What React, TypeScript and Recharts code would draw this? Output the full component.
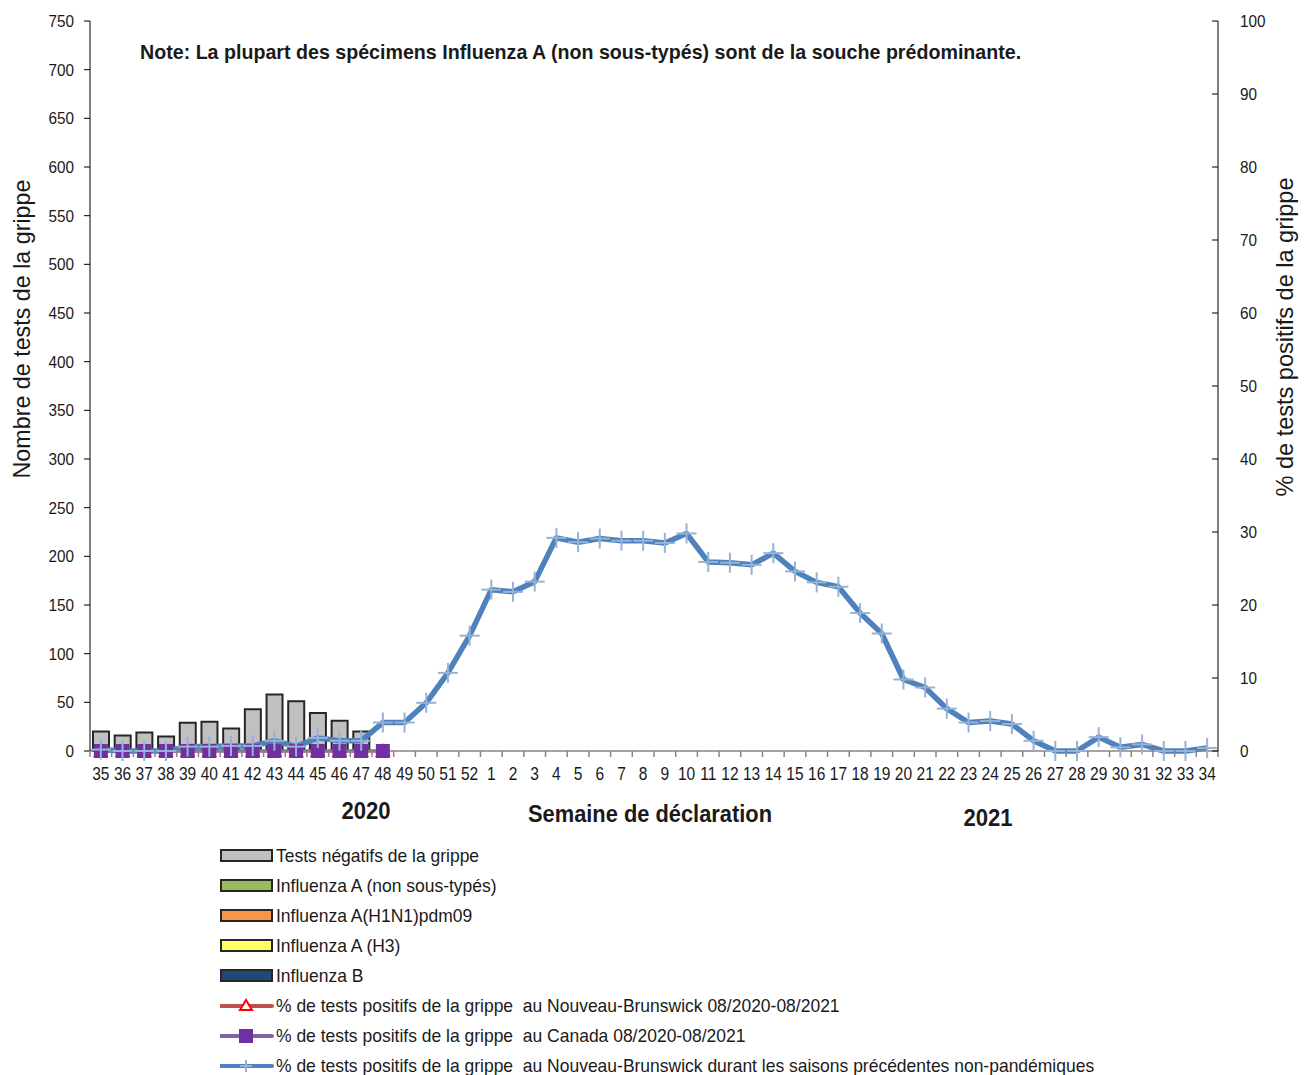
import React from "react";
import {
  ComposedChart,
  Bar,
  Line,
  XAxis,
  YAxis,
} from "recharts";

const weeks = [
  "35", "36", "37", "38", "39", "40", "41", "42", "43", "44", "45", "46", "47", "48", "49", "50", "51", "52",
  "1", "2", "3", "4", "5", "6", "7", "8", "9", "10", "11", "12", "13", "14", "15", "16", "17",
  "18", "19", "20", "21", "22", "23", "24", "25", "26", "27", "28", "29", "30", "31", "32", "33", "34",
];

// Tests négatifs (axe gauche)
const negativeTests = [20, 16, 19, 15, 29, 30, 23, 43, 58, 51, 39, 31, 20, 0];
const fluANonSubtyped = [0, 0, 0, 0, 0, 0, 0, 0, 0, 0, 0, 0, 0, 0];
const fluAH1N1 = [0, 0, 0, 0, 0, 0, 0, 0, 0, 0, 0, 0, 0, 0];
const fluAH3 = [0, 0, 0, 0, 0, 0, 0, 0, 0, 0, 0, 0, 0, 0];
const fluB = [0, 0, 0, 0, 0, 0, 0, 0, 0, 0, 0, 0, 0, 0];

// % positifs (axe droit)
const pctNB = [0, 0, 0, 0, 0, 0, 0, 0, 0, 0, 0, 0, 0, 0];
const pctCanada = [0, 0, 0, 0, 0, 0, 0, 0, 0, 0, 0, 0, 0, 0];
const pctPrevSeasons = [
  0.2, 0, 0, 0, 0.6, 0.6, 0.7, 0.7, 1.4, 0.6, 1.8, 1.4, 1.4, 3.9, 3.9, 6.6, 10.7, 15.8,
  22.1, 21.8, 23.2, 29.2, 28.6, 29.1, 28.8, 28.8, 28.5, 29.8, 25.9, 25.8, 25.5, 27.1, 24.6, 23.1, 22.5,
  18.9, 16.1, 9.8, 8.7, 5.8, 3.9, 4.1, 3.7, 1.4, 0, 0, 1.9, 0.5, 0.9, 0, 0, 0.4,
];

const leftTicks = [0, 50, 100, 150, 200, 250, 300, 350, 400, 450, 500, 550, 600, 650, 700, 750];
const rightTicks = [0, 10, 20, 30, 40, 50, 60, 70, 80, 90, 100];

const data = weeks.map((w, i) => ({
  week: w,
  neg: negativeTests[i] ?? null,
  aNon: fluANonSubtyped[i] ?? null,
  h1n1: fluAH1N1[i] ?? null,
  h3: fluAH3[i] ?? null,
  b: fluB[i] ?? null,
  nb: pctNB[i] ?? null,
  ca: pctCanada[i] ?? null,
  prev: pctPrevSeasons[i],
}));

const FONT = "'Liberation Sans', Arial, sans-serif";
const BAND = 1128 / 52;

const PlusDot = (props: any) => {
  const { cx, cy } = props;
  if (cx == null || cy == null) return null;
  return (
    <g>
      <line x1={cx - 10} x2={cx + 10} y1={cy} y2={cy} stroke="#95B3D7" strokeWidth={2} />
      <line x1={cx} x2={cx} y1={cy - 10} y2={cy + 10} stroke="#95B3D7" strokeWidth={2} />
    </g>
  );
};

const SquareDot = (props: any) => {
  const { cx, cy } = props;
  if (cx == null || cy == null) return null;
  return <rect x={cx - 7} y={cy - 7} width={14} height={14} fill="#7030A0" />;
};

const TriangleDot = (props: any) => {
  const { cx, cy } = props;
  if (cx == null || cy == null) return null;
  return (
    <polygon
      points={`${cx},${cy - 6} ${cx + 6},${cy + 5} ${cx - 6},${cy + 5}`}
      fill="#fff"
      stroke="#FF0000"
      strokeWidth={2}
    />
  );
};

const WeekTick = (props: any) => {
  const { x, y, payload, index } = props;
  const left = x - BAND / 2;
  return (
    <g>
      <line x1={left} x2={left} y1={y} y2={y + 6} stroke="#868686" strokeWidth={1.5} />
      {index === weeks.length - 1 && (
        <line x1={x + BAND / 2} x2={x + BAND / 2} y1={y} y2={y + 6} stroke="#868686" strokeWidth={1.5} />
      )}
      <text
        transform={`translate(${x},${y + 29}) scale(0.84,1)`}
        textAnchor="middle"
        fontSize={18.5}
        fontFamily={FONT}
        fill="#1a1a1a"
      >
        {payload.value}
      </text>
    </g>
  );
};

const LeftTick = (props: any) => {
  const { x, y, payload } = props;
  return (
    <text
      transform={`translate(${x},${y + 6}) scale(0.9,1)`}
      textAnchor="end"
      fontSize={17}
      fontFamily={FONT}
      fill="#1a1a1a"
    >
      {payload.value}
    </text>
  );
};

const RightTick = (props: any) => {
  const { x, y, payload } = props;
  const axisX = x - 22;
  return (
    <g>
      <line x1={axisX - 6} x2={axisX} y1={y} y2={y} stroke="#000" strokeWidth={1} />
      <text
        transform={`translate(${x},${y + 6}) scale(0.9,1)`}
        textAnchor="start"
        fontSize={17}
        fontFamily={FONT}
        fill="#1a1a1a"
      >
        {payload.value}
      </text>
    </g>
  );
};

const legendBoxes = [
  { label: "Tests négatifs de la grippe", color: "#C0C0C0" },
  { label: "Influenza A (non sous-typés)", color: "#9BBB59" },
  { label: "Influenza A(H1N1)pdm09", color: "#F79646" },
  { label: "Influenza A (H3)", color: "#FFFF66" },
  { label: "Influenza B", color: "#1F497D" },
];

const legendLines = [
  { label: "% de tests positifs de la grippe  au Nouveau-Brunswick 08/2020-08/2021", color: "#C0504D", marker: "tri" },
  { label: "% de tests positifs de la grippe  au Canada 08/2020-08/2021", color: "#8064A2", marker: "sq" },
  { label: "% de tests positifs de la grippe  au Nouveau-Brunswick durant les saisons précédentes non-pandémiques", color: "#4F81BD", marker: "plus" },
];

function LegendMarker({ marker }: { marker: string }) {
  if (marker === "tri")
    return <polygon points="26,2 32,12 20,12" fill="#fff" stroke="#FF0000" strokeWidth={2} />;
  if (marker === "sq") return <rect x={19} y={1} width={14} height={14} fill="#7030A0" />;
  return (
    <g>
      <line x1={20} x2={32} y1={8} y2={8} stroke="#95B3D7" strokeWidth={2} />
      <line x1={26} x2={26} y1={2} y2={14} stroke="#95B3D7" strokeWidth={2} />
    </g>
  );
}

const legendText: React.CSSProperties = {
  display: "inline-block",
  fontSize: 19,
  whiteSpace: "pre",
  transform: "scaleX(0.92)",
  transformOrigin: "left center",
};

export default function App() {
  return (
    <div style={{ position: "relative", width: 1296, height: 1067, fontFamily: FONT, color: "#1a1a1a" }}>
      <ComposedChart
        width={1296}
        height={830}
        data={data}
        margin={{ top: 13, right: 0, left: 0, bottom: 0 }}
        barCategoryGap="26%"
      >
        <XAxis
          dataKey="week"
          interval={0}
          height={87}
          tickLine={false}
          tickSize={0}
          tickMargin={0}
          tick={<WeekTick />}
          axisLine={{ stroke: "#868686", strokeWidth: 1.5 }}
        />
        <YAxis
          yAxisId="left"
          orientation="left"
          width={82}
          domain={[0, 750]}
          ticks={leftTicks}
          interval={0}
          tickSize={6}
          tickMargin={10}
          axisLine={{ stroke: "#000" }}
          tickLine={{ stroke: "#000" }}
          tick={<LeftTick />}
        />
        <YAxis
          yAxisId="right"
          orientation="right"
          width={86}
          domain={[0, 100]}
          ticks={rightTicks}
          interval={0}
          tickSize={6}
          tickMargin={16}
          tickLine={false}
          axisLine={{ stroke: "#000" }}
          tick={<RightTick />}
        />
        <Bar yAxisId="left" dataKey="neg" stackId="s" barSize={16} fill="#C0C0C0" stroke="#262626" strokeWidth={2} isAnimationActive={false} />
        <Bar yAxisId="left" dataKey="aNon" stackId="s" barSize={16} fill="#9BBB59" stroke="#262626" strokeWidth={2} isAnimationActive={false} />
        <Bar yAxisId="left" dataKey="h1n1" stackId="s" barSize={16} fill="#F79646" stroke="#262626" strokeWidth={2} isAnimationActive={false} />
        <Bar yAxisId="left" dataKey="h3" stackId="s" barSize={16} fill="#FFFF66" stroke="#262626" strokeWidth={2} isAnimationActive={false} />
        <Bar yAxisId="left" dataKey="b" stackId="s" barSize={16} fill="#1F497D" stroke="#262626" strokeWidth={2} isAnimationActive={false} />
        <Line yAxisId="right" dataKey="nb" stroke="#C0504D" strokeWidth={3} dot={<TriangleDot />} connectNulls={false} isAnimationActive={false} />
        <Line yAxisId="right" dataKey="ca" stroke="#8064A2" strokeWidth={3} dot={<SquareDot />} connectNulls={false} isAnimationActive={false} />
        <Line yAxisId="right" dataKey="prev" stroke="#4F81BD" strokeWidth={5.5} strokeLinejoin="round" dot={<PlusDot />} isAnimationActive={false} />
      </ComposedChart>

      <div
        style={{
          position: "absolute",
          left: 132,
          top: 32,
          fontSize: 21,
          fontWeight: "bold",
          whiteSpace: "nowrap",
          transform: "scaleX(0.935)",
          transformOrigin: "left center",
        }}
      >
        Note: La plupart des spécimens Influenza A (non sous-typés) sont de la souche prédominante.
      </div>

      <div
        style={{
          position: "absolute",
          left: 14,
          top: 321,
          fontSize: 24,
          whiteSpace: "nowrap",
          transform: "translate(-50%, -50%) rotate(-90deg) scaleX(0.97)",
        }}
      >
        Nombre de tests de la grippe
      </div>
      <div
        style={{
          position: "absolute",
          left: 1277,
          top: 329,
          fontSize: 24,
          whiteSpace: "nowrap",
          transform: "translate(-50%, -50%) rotate(-90deg) scaleX(0.98)",
        }}
      >
        % de tests positifs de la grippe
      </div>

      <div style={{ position: "absolute", left: 358, top: 803, fontSize: 24, fontWeight: "bold", transform: "translate(-50%, -50%) scaleX(0.92)" }}>2020</div>
      <div
        style={{
          position: "absolute",
          left: 642,
          top: 806,
          fontSize: 24,
          fontWeight: "bold",
          whiteSpace: "nowrap",
          transform: "translate(-50%, -50%) scaleX(0.91)",
        }}
      >
        Semaine de déclaration
      </div>
      <div style={{ position: "absolute", left: 980, top: 810, fontSize: 24, fontWeight: "bold", transform: "translate(-50%, -50%) scaleX(0.92)" }}>2021</div>

      <div style={{ position: "absolute", left: 212, top: 833 }}>
        {legendBoxes.map((l) => (
          <div key={l.label} style={{ display: "flex", alignItems: "center", height: 30, whiteSpace: "nowrap" }}>
            <svg width={56} height={16} style={{ flex: "none" }}>
              <rect x={1} y={2} width={51} height={11} fill={l.color} stroke="#262626" strokeWidth={2} />
            </svg>
            <span style={legendText}>{l.label}</span>
          </div>
        ))}
        {legendLines.map((l) => (
          <div key={l.label} style={{ display: "flex", alignItems: "center", height: 30, whiteSpace: "nowrap" }}>
            <svg width={56} height={16} style={{ flex: "none" }}>
              <line x1={1} x2={52} y1={8} y2={8} stroke={l.color} strokeWidth={4} strokeLinecap="round" />
              <LegendMarker marker={l.marker} />
            </svg>
            <span style={legendText}>{l.label}</span>
          </div>
        ))}
      </div>
    </div>
  );
}
